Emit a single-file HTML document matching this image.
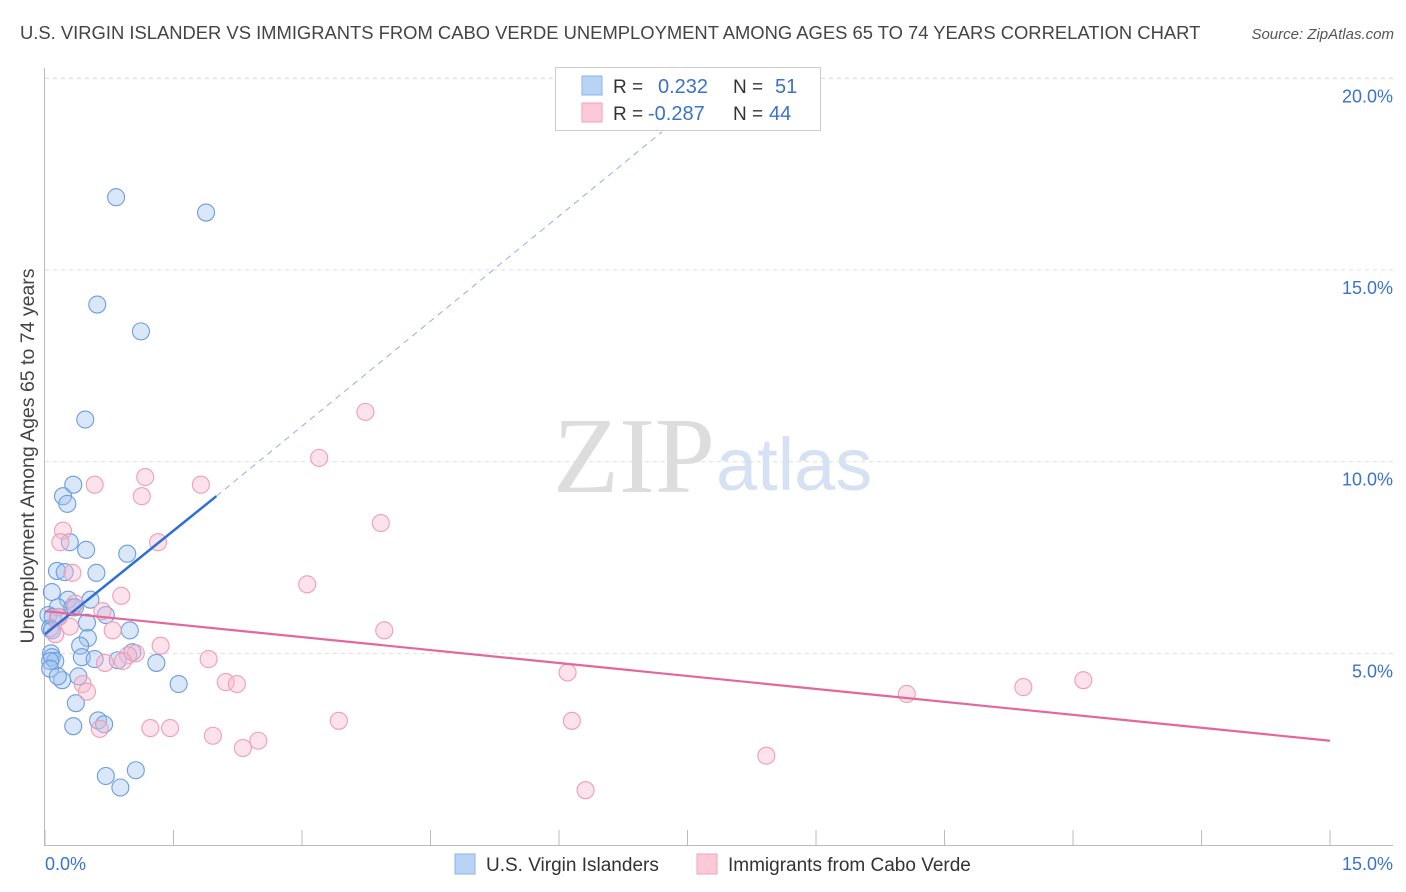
<!DOCTYPE html>
<html><head><meta charset="utf-8"><style>
body{margin:0;background:#fff;font-family:"Liberation Sans",sans-serif;}
#wrap{position:relative;width:1406px;height:892px;overflow:hidden;}
</style></head><body>
<div id="wrap">
<svg id="svg" width="1406" height="892" xmlns="http://www.w3.org/2000/svg">
<text x="20" y="39" font-size="18.4" fill="#444">U.S. VIRGIN ISLANDER VS IMMIGRANTS FROM CABO VERDE UNEMPLOYMENT AMONG AGES 65 TO 74 YEARS CORRELATION CHART</text>
<text x="1394" y="39" font-size="15" fill="#555" font-style="italic" text-anchor="end">Source: ZipAtlas.com</text>
<text x="715" y="492" font-size="108" fill="#ddd" text-anchor="end" font-family="Liberation Serif,serif">ZIP</text>
<text x="716" y="490" font-size="74" fill="#d6e2f3">atlas</text>
<text transform="translate(34,456) rotate(-90)" font-size="19.5" fill="#444" text-anchor="middle">Unemployment Among Ages 65 to 74 years</text>
<g id="grid"></g><g id="pts"></g><g id="lines"></g>
<g>
<rect x="555.5" y="67.5" width="265" height="63" fill="#fff" stroke="#ccc"/>
<rect x="582" y="76" width="20" height="19" fill="#b9d3f5" stroke="#8cb3e8"/>
<rect x="582" y="103" width="20" height="19" fill="#fbc9d8" stroke="#f0a1b8"/>
<text x="613" y="93" font-size="19" fill="#333">R =</text><text x="658" y="93" font-size="20" fill="#3a72cc">0.232</text>
<text x="733" y="93" font-size="19" fill="#333">N =</text><text x="775" y="93" font-size="20" fill="#3a72cc">51</text>
<text x="613" y="120" font-size="19" fill="#333">R =</text><text x="648" y="120" font-size="20" fill="#3a72cc">-0.287</text>
<text x="733" y="120" font-size="19" fill="#333">N =</text><text x="769" y="120" font-size="20" fill="#3a72cc">44</text>
</g>
<g>
<rect x="455" y="854" width="20" height="20" fill="#b9d3f5" stroke="#8cb3e8"/>
<text x="486" y="871" font-size="19" fill="#333">U.S. Virgin Islanders</text>
<rect x="697" y="854" width="20" height="20" fill="#fbc9d8" stroke="#f0a1b8"/>
<text x="728" y="871" font-size="19" fill="#333">Immigrants from Cabo Verde</text>
</g>
<text x="45" y="870" font-size="18" fill="#3a72cc">0.0%</text>
<text x="1393" y="870" font-size="18" fill="#3a72cc" text-anchor="end">15.0%</text>
</svg></div>
<script>
const yTicks=[5,10,15,20];
const xTicks=[0,1.5,3,4.5,6,7.5,9,10.5,12,13.5,15];
const blueX=[0.83,1.88,0.61,1.12,0.47,0.33,0.21,0.26,0.29,0.48,0.96,0.6,0.14,0.23,0.08,0.27,0.53,0.71,0.15,0.32,0.35,0.04,0.09,0.49,0.16,0.99,0.06,0.08,0.5,0.41,0.43,0.58,1.02,1.3,0.07,0.08,0.12,0.06,0.06,0.39,0.2,0.15,1.56,0.36,0.62,0.69,0.33,0.71,1.06,0.88,0.85];
const blueY=[16.9,16.5,14.1,13.4,11.1,9.4,9.1,8.9,7.9,7.7,7.6,7.1,7.15,7.12,6.6,6.4,6.4,6.0,6.2,6.2,6.2,6.0,5.95,5.8,5.95,5.6,5.65,5.6,5.4,5.2,4.9,4.85,5.03,4.75,5.0,4.9,4.8,4.8,4.6,4.4,4.3,4.4,4.2,3.7,3.25,3.15,3.1,1.8,1.95,1.5,4.82];
const pinkX=[3.74,3.2,1.17,0.58,1.82,1.13,3.92,0.21,0.18,1.32,0.32,3.06,0.89,0.67,0.35,0.15,0.79,3.96,0.29,0.12,1.35,1.06,0.97,0.91,0.7,1.91,0.44,0.49,2.11,2.24,6.1,10.06,11.42,12.12,3.43,6.15,0.64,1.23,1.46,1.96,2.49,2.31,8.42,6.31];
const pinkY=[11.3,10.1,9.6,9.4,9.4,9.1,8.4,8.2,7.9,7.9,7.1,6.8,6.5,6.1,6.3,5.95,5.6,5.6,5.7,5.5,5.2,5.0,4.95,4.8,4.75,4.85,4.2,4.0,4.25,4.2,4.5,3.94,4.12,4.3,3.24,3.24,3.03,3.05,3.05,2.85,2.72,2.53,2.33,1.43];
const blueTrend=[0,5.5,2.0,9.1];
const blueDash=[2.0,9.1,7.2,18.6];
const pinkTrend=[0,6.1,15,2.72];
const X=v=>45+v*85.67, Y=v=>845-v*38.33;
const NS='http://www.w3.org/2000/svg';
function mk(tag,attrs,parent){const e=document.createElementNS(NS,tag);for(const k in attrs)e.setAttribute(k,attrs[k]);parent.appendChild(e);return e;}
const grid=document.getElementById('grid');
mk('line',{x1:45,y1:Y(20),x2:1393,y2:Y(20),stroke:'#ddd','stroke-dasharray':'4,4'},grid);
yTicks.forEach(t=>{
 const l=mk('line',{x1:45,y1:Y(t),x2:1393,y2:Y(t),stroke:'#ddd','stroke-dasharray':'4,4'},grid);
 
 
 const tx=mk('text',{x:1393,y:Y(t)+24,'font-size':18,fill:'#3a72cc','text-anchor':'end'},grid);
 tx.textContent=t.toFixed(1)+'%';
 
 
});
mk('line',{x1:44.5,y1:68,x2:44.5,y2:845,stroke:'#bbb'},grid);
mk('line',{x1:44,y1:845.5,x2:1393,y2:845.5,stroke:'#bbb'},grid);
xTicks.forEach(t=>{
 const l=mk('line',{x1:X(t),y1:830,x2:X(t),y2:845,stroke:'#bbb'},grid);
 
 
});
const pts=document.getElementById('pts');
blueX.forEach((v,i)=>{
 const c=mk('circle',{cx:X(v),cy:Y(blueY[i]),r:8.5,fill:'rgba(160,196,240,0.4)',stroke:'#6a9de0','stroke-width':1.1},pts);
 
 
});
pinkX.forEach((v,i)=>{
 const c=mk('circle',{cx:X(v),cy:Y(pinkY[i]),r:8.5,fill:'rgba(248,184,204,0.4)',stroke:'#ef9db5','stroke-width':1.1},pts);
 
 
});
const lines=document.getElementById('lines');
const bl=mk('line',{x1:X(blueTrend[0]),y1:Y(blueTrend[1]),x2:X(blueTrend[2]),y2:Y(blueTrend[3]),stroke:'#2c6fd6','stroke-width':2.5},lines);


const bd=mk('line',{x1:X(blueDash[0]),y1:Y(blueDash[1]),x2:X(blueDash[2]),y2:Y(blueDash[3]),stroke:'#8fb0e0','stroke-width':1,'stroke-dasharray':'6,5'},lines);


const pl=mk('line',{x1:X(pinkTrend[0]),y1:Y(pinkTrend[1]),x2:X(pinkTrend[2]),y2:Y(pinkTrend[3]),stroke:'#e5679a','stroke-width':2.2},lines);


</script>
</body></html>
